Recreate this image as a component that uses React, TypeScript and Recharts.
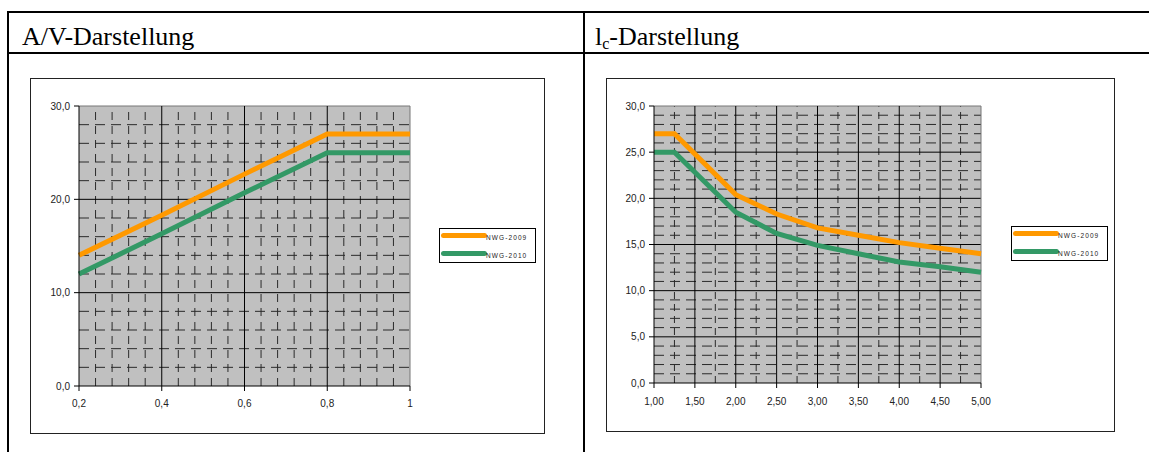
import React from "react";
import {
  CartesianGrid,
  Line,
  LineChart,
  ReferenceLine,
  XAxis,
  YAxis,
} from "recharts";

// A/V chart
const avX = [0.2, 0.4, 0.6, 0.8, 1];
const av2009 = [14, 18.3, 22.7, 27, 27];
const av2010 = [12, 16.3, 20.7, 25, 25];
const avXTicks = [0.2, 0.4, 0.6, 0.8, 1];
const avYTicks = [0, 10, 20, 30];

// lc chart
const lcX = [1, 1.25, 2, 2.5, 3, 3.5, 4, 4.5, 5];
const lc2009 = [27, 27, 20.4, 18.3, 16.8, 16.0, 15.2, 14.6, 14.0];
const lc2010 = [25, 25, 18.5, 16.2, 14.9, 14.0, 13.1, 12.6, 12.0];
const lcXTicks = [1, 1.5, 2, 2.5, 3, 3.5, 4, 4.5, 5];
const lcYTicks = [0, 5, 10, 15, 20, 25, 30];

const seriesNames = ["NWG-2009", "NWG-2010"];
const ORANGE = "#FF9900";
const GREEN = "#339966";

// minor grid positions between major ticks
function minorSteps(majors: number[], parts: number) {
  const out: number[] = [];
  for (let i = 0; i < majors.length - 1; i++) {
    const step = (majors[i + 1] - majors[i]) / parts;
    for (let k = 1; k < parts; k++) out.push(+(majors[i] + step * k).toFixed(4));
  }
  return out;
}

const comma = (v: number, d: number) => v.toFixed(d).replace(".", ",");
const tickStyle = { fontSize: 10, fill: "#222", fontFamily: "Liberation Sans, Arial, sans-serif" };

function LegendBox({ left, top }: { left: number; top: number }) {
  return (
    <div
      style={{
        position: "absolute",
        left,
        top,
        width: 97,
        height: 35,
        border: "1px solid #000",
        background: "#fff",
        boxSizing: "border-box",
      }}
    >
      {seriesNames.map((name, i) => (
        <div
          key={name}
          style={{ position: "absolute", left: 1, top: 3 + i * 18, display: "flex", alignItems: "center", height: 7 }}
        >
          <span
            style={{
              display: "inline-block",
              width: 46,
              height: 5,
              borderRadius: 3,
              background: i === 0 ? ORANGE : GREEN,
            }}
          />
          <span
            style={{
              fontFamily: "Liberation Sans, Arial, sans-serif",
              fontSize: 6.5,
              letterSpacing: 1.1,
              color: "#222",
              marginLeft: -1,
              marginTop: 3,
            }}
          >
            {name}
          </span>
        </div>
      ))}
    </div>
  );
}

type ChartProps = {
  xs: number[];
  a: number[];
  b: number[];
  xTicks: number[];
  yTicks: number[];
  xMinor: number[];
  yMinor: number[];
  xFmt: (v: number) => string;
  width: number;
  height: number;
  left: number;
  right: number;
  bottom: number;
  labelGap: number;
  hDash: string;
  vDash: string;
};

function GridChart(p: ChartProps) {
  const data = p.xs.map((x, i) => ({ x, nwg2009: p.a[i], nwg2010: p.b[i] }));
  const xMax = p.xTicks[p.xTicks.length - 1];
  const yMax = p.yTicks[p.yTicks.length - 1];
  return (
    <LineChart
      width={p.width}
      height={p.height}
      data={data}
      margin={{ top: 27, right: p.right, left: 0, bottom: 0 }}
    >
      <CartesianGrid fill="#C0C0C0" fillOpacity={1} horizontal={false} vertical={false} />
      {p.yMinor.map((v) => (
        <ReferenceLine key={"ym" + v} y={v} stroke="#2a2a2a" strokeDasharray={p.hDash} />
      ))}
      {p.xMinor.map((v) => (
        <ReferenceLine key={"xm" + v} x={v} stroke="#2a2a2a" strokeDasharray={p.vDash} />
      ))}
      {p.yTicks.slice(1).map((v) => (
        <ReferenceLine key={"y" + v} y={v} stroke={v === yMax ? "#777" : "#000"} />
      ))}
      {p.xTicks.slice(1).map((v) => (
        <ReferenceLine key={"x" + v} x={v} stroke={v === xMax ? "#777" : "#000"} />
      ))}
      <XAxis
        dataKey="x"
        type="number"
        domain={[p.xTicks[0], xMax]}
        ticks={p.xTicks}
        tickFormatter={p.xFmt}
        tick={tickStyle}
        tickSize={5}
        tickMargin={p.labelGap}
        tickLine={{ stroke: "#000" }}
        axisLine={{ stroke: "#000" }}
        height={p.bottom}
        interval={0}
      />
      <YAxis
        type="number"
        domain={[0, yMax]}
        ticks={p.yTicks}
        tickFormatter={(v: number) => comma(v, 1)}
        tick={tickStyle}
        tickSize={5}
        tickMargin={4}
        tickLine={{ stroke: "#000" }}
        axisLine={{ stroke: "#000" }}
        width={p.left}
        interval={0}
      />
      <Line
        dataKey="nwg2009"
        name={seriesNames[0]}
        type="linear"
        stroke={ORANGE}
        strokeWidth={5}
        dot={false}
        isAnimationActive={false}
      />
      <Line
        dataKey="nwg2010"
        name={seriesNames[1]}
        type="linear"
        stroke={GREEN}
        strokeWidth={5}
        dot={false}
        isAnimationActive={false}
      />
    </LineChart>
  );
}

const line = (style: React.CSSProperties) => (
  <div style={{ position: "absolute", background: "#000", ...style }} />
);

export default function App() {
  return (
    <div
      style={{
        position: "absolute",
        left: 0,
        top: 0,
        width: 1149,
        height: 452,
        background: "#fff",
        overflow: "hidden",
        fontFamily: '"Liberation Serif", "Times New Roman", serif',
      }}
    >
      {line({ left: 7, top: 11, width: 1142, height: 2 })}
      {line({ left: 7, top: 52, width: 1142, height: 2 })}
      {line({ left: 7, top: 11, width: 2, height: 441 })}
      {line({ left: 583, top: 11, width: 2, height: 441 })}

      <div style={{ position: "absolute", left: 22, top: 22, fontSize: 26, color: "#000", whiteSpace: "nowrap" }}>
        A/V-Darstellung
      </div>
      <div style={{ position: "absolute", left: 595, top: 22, fontSize: 26, color: "#000", whiteSpace: "nowrap" }}>
        l<sub style={{ fontSize: 16, verticalAlign: "-4px" }}>c</sub>-Darstellung
      </div>

      <div
        style={{
          position: "absolute",
          left: 30,
          top: 78,
          width: 515,
          height: 356,
          border: "1px solid #222",
          boxSizing: "border-box",
          background: "#fff",
        }}
      >
        <GridChart
          xs={avX}
          a={av2009}
          b={av2010}
          xTicks={avXTicks}
          yTicks={avYTicks}
          xMinor={minorSteps(avXTicks, 5)}
          yMinor={minorSteps(avYTicks, 5)}
          xFmt={(v) => String(v).replace(".", ",")}
          width={513}
          height={354}
          left={48}
          right={134}
          bottom={47}
          labelGap={9}
          hDash="10 6"
          vDash="8 6"
        />
        <LegendBox left={408} top={149} />
      </div>

      <div
        style={{
          position: "absolute",
          left: 606,
          top: 78,
          width: 509,
          height: 354,
          border: "1px solid #222",
          boxSizing: "border-box",
          background: "#fff",
        }}
      >
        <GridChart
          xs={lcX}
          a={lc2009}
          b={lc2010}
          xTicks={lcXTicks}
          yTicks={lcYTicks}
          xMinor={minorSteps(lcXTicks, 2)}
          yMinor={minorSteps(lcYTicks, 5)}
          xFmt={(v) => comma(v, 2)}
          width={507}
          height={352}
          left={47}
          right={133}
          bottom={48}
          labelGap={10}
          hDash="10 6"
          vDash="7 5"
        />
        <LegendBox left={404} top={147} />
      </div>
    </div>
  );
}
